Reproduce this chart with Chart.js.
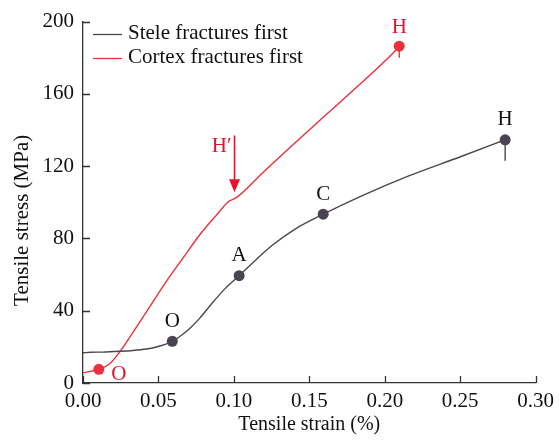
<!DOCTYPE html>
<html lang="en">
<head>
    <meta charset="UTF-8">
    <title>Tensile stress-strain</title>
    <style>
        html, body { margin: 0; padding: 0; background: #fff; }
        .chart-box { width: 560px; height: 441px; }
    </style>
    <script src="https://cdn.jsdelivr.net/npm/chart.js@4/dist/chart.umd.min.js"></script>
</head>
<body>
    <div class="chart-box"><canvas id="grafica"></canvas></div>
    <script>
        // Stele fractures first (grey curve)
        const steleStrain = [0, 0.005, 0.013, 0.02, 0.033, 0.042, 0.048, 0.0592, 0.065, 0.0702, 0.077, 0.0854, 0.0945, 0.1035,
                             0.115, 0.1252, 0.1406, 0.1592, 0.1844, 0.2151, 0.2502, 0.2798];
        const steleStress = [16.7, 17.0, 17.1, 17.4, 18, 18.8, 19.8, 23.1, 26.3, 29.8, 35.5, 44, 52.5, 59.4,
                             68.5, 76.1, 85.2, 93.4, 103.4, 114.3, 125.2, 134.6];
        // Cortex fractures first (red curve)
        const cortexStrain = [0, 0.0105, 0.0175, 0.0241, 0.0309, 0.0441, 0.0551, 0.066, 0.077, 0.088, 0.0967,
                              0.0998, 0.103, 0.1186, 0.1406, 0.1625, 0.1844, 0.2042, 0.2096];
        const cortexStress = [5.6, 7.6, 10.5, 17, 25.2, 42, 56.1, 68.8, 81.6, 92.5, 100.6,
                              101.8, 103.4, 116, 133, 149.5, 166, 181.5, 186.4];
        // drop after fracture
        const steleTailStress = [134.6, 123];
        const cortexTailStress = [186.4, 180];

        // marked points
        const steleMarkNames = ['O', 'A', 'C', 'H'];
        const steleMarkStrain = [0.0592, 0.1035, 0.1592, 0.2798];
        const steleMarkStress = [23.1, 59.4, 93.4, 134.6];
        const cortexMarkNames = ['O', 'H'];
        const cortexMarkStrain = [0.0105, 0.2096];
        const cortexMarkStress = [7.6, 186.4];

        // H' arrow (strain, stress top, stress tip)
        const arrowStrain = 0.1003;
        const arrowFrom = 137;
        const arrowTo = 105.5;

        const xTicks = [0, 0.05, 0.10, 0.15, 0.20, 0.25, 0.30];
        const yTicks = [0, 40, 80, 120, 160, 200];

        const GREY = '#4a474d';
        const GREY_DOT = '#4a4352';
        const RED = '#e8313c';
        const RED_TEXT = '#e3132b';
        const FONT = '"Liberation Serif", "Times New Roman", serif';

        const toXY = (xs, ys) => xs.map((x, i) => ({ x: x, y: ys[i] }));
        const last = arr => arr[arr.length - 1];

        const extras = {
            id: 'extras',
            afterDraw(chart) {
                const ctx = chart.ctx;
                const xs = chart.scales.x, ys = chart.scales.y;
                const a = chart.chartArea;
                ctx.save();
                // inward ticks
                ctx.strokeStyle = '#333';
                ctx.lineWidth = 1.3;
                ctx.beginPath();
                xTicks.forEach(v => {
                    const px = Math.round(xs.getPixelForValue(v)) + 0.5;
                    ctx.moveTo(px, a.bottom);
                    ctx.lineTo(px, a.bottom - 7);
                });
                yTicks.forEach(v => {
                    const py = Math.round(ys.getPixelForValue(v)) + 0.5;
                    ctx.moveTo(a.left, py);
                    ctx.lineTo(a.left + 7, py);
                });
                ctx.stroke();

                // y axis title
                ctx.save();
                ctx.translate(22, ys.getPixelForValue(90));
                ctx.rotate(-Math.PI / 2);
                ctx.font = '21px ' + FONT;
                ctx.fillStyle = '#111';
                ctx.textAlign = 'center';
                ctx.textBaseline = 'middle';
                ctx.fillText('Tensile stress (MPa)', 0, 0);
                ctx.restore();

                // point labels
                ctx.font = '21px ' + FONT;
                ctx.textAlign = 'center';
                ctx.textBaseline = 'middle';
                ctx.fillStyle = '#111';
                steleMarkNames.forEach((n, i) => {
                    ctx.fillText(n, xs.getPixelForValue(steleMarkStrain[i]), ys.getPixelForValue(steleMarkStress[i]) - 20);
                });
                ctx.fillStyle = RED_TEXT;
                ctx.fillText(cortexMarkNames[0], xs.getPixelForValue(cortexMarkStrain[0]) + 20, ys.getPixelForValue(cortexMarkStress[0]) + 5);
                ctx.fillText(cortexMarkNames[1], xs.getPixelForValue(cortexMarkStrain[1]), ys.getPixelForValue(cortexMarkStress[1]) - 19);

                // H' arrow
                const ax = Math.round(xs.getPixelForValue(arrowStrain)) + 0.5;
                const y0 = ys.getPixelForValue(arrowFrom), y1 = ys.getPixelForValue(arrowTo);
                ctx.strokeStyle = RED_TEXT;
                ctx.lineWidth = 1.5;
                ctx.beginPath();
                ctx.moveTo(ax, y0);
                ctx.lineTo(ax, y1 - 10);
                ctx.stroke();
                ctx.beginPath();
                ctx.moveTo(ax - 5.5, y1 - 13);
                ctx.lineTo(ax + 5.5, y1 - 13);
                ctx.lineTo(ax, y1);
                ctx.closePath();
                ctx.fill();
                ctx.textAlign = 'right';
                ctx.fillText('H\u2032', ax - 3, y0 + 11);

                // legend
                ctx.textAlign = 'left';
                ctx.font = '21px ' + FONT;
                const items = [['Stele fractures first', GREY], ['Cortex fractures first', RED]];
                items.forEach((it, i) => {
                    const ly = 34.5 + i * 24;
                    ctx.strokeStyle = it[1];
                    ctx.lineWidth = 1.3;
                    ctx.beginPath();
                    ctx.moveTo(93, ly);
                    ctx.lineTo(122, ly);
                    ctx.stroke();
                    ctx.fillStyle = '#111';
                    ctx.fillText(it[0], 128, ly - 1);
                });
                ctx.restore();
            }
        };

        const curve = (data, color) => ({
            data: data,
            showLine: true,
            borderColor: color,
            borderWidth: 1.4,
            pointRadius: 0,
            cubicInterpolationMode: 'monotone'
        });

        const config = {
            type: 'scatter',
            data: {
                datasets: [
                    Object.assign({ label: 'Stele fractures first' }, curve(toXY(steleStrain, steleStress), GREY)),
                    Object.assign({ label: 'Cortex fractures first' }, curve(toXY(cortexStrain, cortexStress), RED)),
                    {
                        label: 'stele drop',
                        data: steleTailStress.map(y => ({ x: last(steleStrain), y: y })),
                        showLine: true, borderColor: GREY, borderWidth: 1.4, pointRadius: 0
                    },
                    {
                        label: 'cortex drop',
                        data: cortexTailStress.map(y => ({ x: last(cortexStrain), y: y })),
                        showLine: true, borderColor: RED, borderWidth: 1.4, pointRadius: 0
                    },
                    {
                        label: 'stele marks',
                        data: toXY(steleMarkStrain, steleMarkStress),
                        pointRadius: 5.5,
                        backgroundColor: GREY_DOT,
                        borderWidth: 0
                    },
                    {
                        label: 'cortex marks',
                        data: toXY(cortexMarkStrain, cortexMarkStress),
                        pointRadius: 5.5,
                        backgroundColor: RED,
                        borderWidth: 0
                    }
                ]
            },
            options: {
                responsive: true,
                maintainAspectRatio: false,
                animation: false,
                events: [],
                layout: { padding: { top: 16, right: 21, left: 0, bottom: 0 } },
                plugins: {
                    legend: { display: false },
                    tooltip: { enabled: false }
                },
                scales: {
                    x: {
                        type: 'linear',
                        min: 0,
                        max: 0.3,
                        afterBuildTicks: s => { s.ticks = xTicks.map(v => ({ value: v })); },
                        afterFit: s => { s.height = 58; },
                        grid: { display: true, drawOnChartArea: false, drawTicks: false },
                        border: { color: '#333', width: 1.3 },
                        ticks: {
                            padding: 6,
                            color: '#111',
                            font: { family: FONT, size: 21 },
                            maxRotation: 0,
                            callback: v => Number(v).toFixed(2)
                        },
                        title: {
                            display: true,
                            text: 'Tensile strain (%)',
                            color: '#111',
                            font: { family: FONT, size: 20 },
                            padding: { top: 0, bottom: 4 }
                        }
                    },
                    y: {
                        min: 0,
                        max: 200,
                        afterBuildTicks: s => { s.ticks = yTicks.map(v => ({ value: v })); },
                        afterFit: s => { s.width = 83; },
                        grid: { display: true, drawOnChartArea: false, drawTicks: false },
                        border: { color: '#333', width: 1.3 },
                        ticks: {
                            padding: 9,
                            color: '#111',
                            font: { family: FONT, size: 21 }
                        },
                        title: { display: false }
                    }
                }
            },
            plugins: [extras]
        };

        new Chart(document.getElementById('grafica'), config);
    </script>
</body>
</html>
